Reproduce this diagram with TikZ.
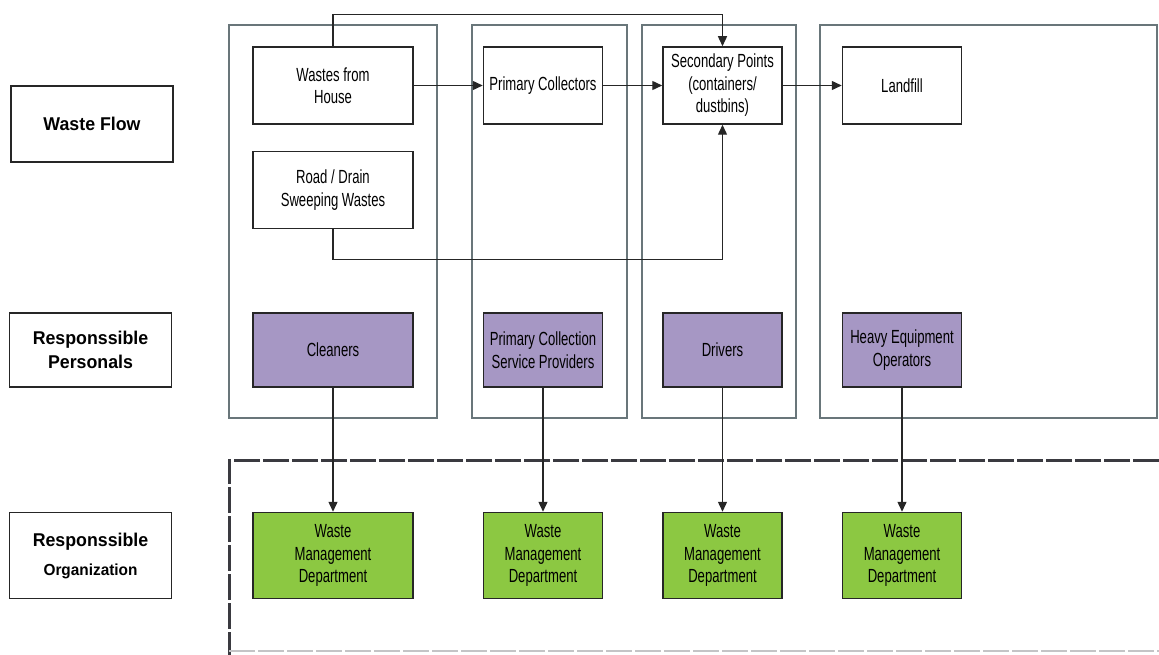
\documentclass[tikz,border=0pt]{standalone}
\usepackage{fontspec}
\setmainfont{Liberation Sans}
\newfontfamily\narrowsans{Liberation Sans}[FakeStretch=0.69]
\newfontfamily\labelsans{Liberation Sans}[FakeStretch=0.96]
\usetikzlibrary{arrows.meta, positioning}
\definecolor{lanegray}{RGB}{105,118,122}
\definecolor{staffpurple}{RGB}{166,151,196}
\definecolor{deptgreen}{RGB}{140,200,66}
\definecolor{framegray}{RGB}{58,58,64}

\begin{document}
\begin{tikzpicture}[
  x=1pt, y=-1pt,
  box/.style = {
    rectangle, draw=black!85, line width=1.5pt, fill=white,
    minimum width=119pt, minimum height=77pt, inner sep=0pt,
    align=center, font=\narrowsans\fontsize{19}{22.5}\selectfont
  },
  widebox/.style = {box, minimum width=160pt},
  staff/.style = {box, fill=staffpurple, minimum height=74pt},
  dept/.style = {box, fill=deptgreen, minimum height=86pt},
  rowlabel/.style = {
    rectangle, draw=black!85, line width=1.5pt, inner sep=0pt,
    minimum width=162pt, align=center,
    font=\labelsans\bfseries\fontsize{18.5}{24}\selectfont
  },
  lane/.style = {draw=lanegray, line width=1.1pt},
  frame/.style = {draw=framegray, line width=3pt, dash pattern=on 26pt off 3pt},
  arr/.style = {-{Triangle[length=10pt, width=9pt]}, line width=1.4pt, draw=black!85}
]
\useasboundingbox (0,0) rectangle (1159,655);

% stage columns
\draw[lane] (229,25) rectangle (437,418);
\draw[lane] (472,25) rectangle (627,418);
\draw[lane] (642,25) rectangle (796,418);
\draw[lane] (820,25) rectangle (1157,418);

% organization frame
\draw[frame] (1159,460) -- (229,460) -- (229,655);
\draw[frame, draw=framegray!30, line width=1.6pt] (229,651) -- (1159,651);

% waste flow
\node[widebox] (house) at (333,85.5) {Wastes from\\House};
\node[widebox, below=26pt of house] (road) {Road / Drain\\Sweeping Wastes};
\node[box, right=69pt of house] (prim) {Primary Collectors};
\node[box, right=59pt of prim]  (sec)  {Secondary Points\\(containers/\\dustbins)};
\node[box, right=59pt of sec]   (land) {Landfill};

% personnel
\node[staff, minimum width=160pt, below=83pt of road] (clean) {Cleaners};
\node[staff, right=69pt of clean] (pcsp)  {Primary Collection\\Service Providers};
\node[staff, right=59pt of pcsp]  (drv)   {Drivers};
\node[staff, right=59pt of drv]   (heavy) {Heavy Equipment\\Operators};

% organization
\node[dept, minimum width=160pt, below=124pt of clean] (wmda) {Waste\\Management\\Department};
\node[dept, below=124pt of pcsp]  (wmdb) {Waste\\Management\\Department};
\node[dept, below=124pt of drv]   (wmdc) {Waste\\Management\\Department};
\node[dept, below=124pt of heavy] (wmdd) {Waste\\Management\\Department};

% row labels
\node[rowlabel, minimum height=76pt] (lflow) at (92,124) {Waste Flow};
\node[rowlabel, minimum height=74pt, left=80pt of clean] (lpers) {Responssible\\Personals};
\node[rowlabel, minimum height=86pt, left=80pt of wmda] (lorg)
  {Responssible\\[5pt]{\fontsize{16}{20}\selectfont Organization}};

\draw[arr] (house) -- (prim);
\draw[arr] (prim) -- (sec);
\draw[arr] (sec) -- (land);
\draw[arr] (house.north) -- ++(0,-32) -| (sec.north);
\draw[arr] (road.south) -- ++(0,30) -| (sec.south);
\draw[arr] (clean) -- (wmda);
\draw[arr] (pcsp) -- (wmdb);
\draw[arr] (drv) -- (wmdc);
\draw[arr] (heavy) -- (wmdd);
\end{tikzpicture}
\end{document}
